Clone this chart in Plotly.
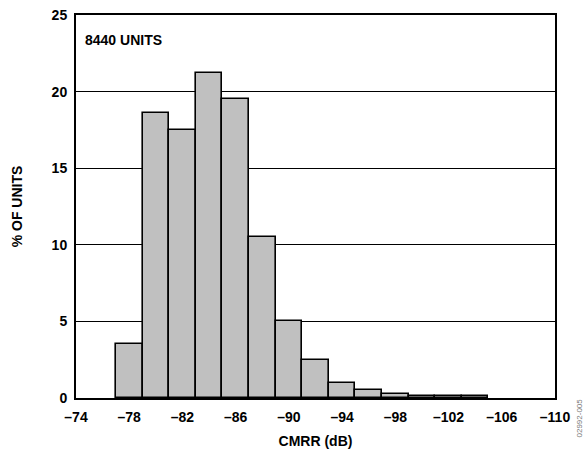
import plotly.graph_objects as go

# CMRR bin centers (dB) and % of units
bin_centers = [-78, -80, -82, -84, -86, -88, -90, -92, -94, -96, -98, -100, -102, -104]
pct_units = [3.5, 18.6, 17.5, 21.2, 19.5, 10.5, 5.0, 2.5, 1.0, 0.55, 0.25, 0.12, 0.12, 0.12]
x_ticks = [-74, -78, -82, -86, -90, -94, -98, -102, -106, -110]
y_ticks = [0, 5, 10, 15, 20, 25]

font_family = "Liberation Sans, Arial, sans-serif"
bold14 = dict(family=font_family, size=14, color="black", weight="bold")

fig = go.Figure()
fig.add_trace(go.Bar(
    x=bin_centers, y=pct_units, width=2,
    marker=dict(color="#c0c0c0", line=dict(color="black", width=1.6)),
    showlegend=False,
))

fig.update_layout(
    width=587, height=455,
    margin=dict(l=76, r=32, t=15, b=57, autoexpand=False),
    paper_bgcolor="white", plot_bgcolor="white",
    font=dict(family=font_family, color="black", size=13),
    bargap=0,
    xaxis=dict(
        range=[-74, -110], tickvals=x_ticks,
        ticktext=["<b>\u2013%d</b>" % abs(v) for v in x_ticks],
        tickfont=bold14, automargin=False,
        showgrid=False, zeroline=False,
        showline=True, linecolor="black", linewidth=2, mirror=True,
        ticks="outside", ticklen=5, tickcolor="rgba(0,0,0,0)",
        title=dict(text="<b>CMRR (dB)</b>", font=bold14, standoff=12),
    ),
    yaxis=dict(
        range=[0, 25], tickvals=y_ticks,
        ticktext=["<b>%d</b>" % v for v in y_ticks],
        tickfont=bold14, automargin=False,
        showgrid=True, gridcolor="black", gridwidth=1,
        zeroline=False,
        showline=True, linecolor="black", linewidth=2, mirror=True,
        ticks="outside", ticklen=4, tickcolor="rgba(0,0,0,0)",
        title=dict(text="<b>% OF UNITS</b>", font=bold14, standoff=26),
    ),
    annotations=[
        dict(text="<b>8440 UNITS</b>", xref="paper", yref="paper",
             x=0.015, y=0.935, xanchor="left", yanchor="middle",
             showarrow=False, font=bold14),
        dict(text="02992-005", xref="paper", yref="paper",
             x=1.052, y=0.005, xanchor="center", yanchor="top",
             textangle=-90, showarrow=False,
             font=dict(family=font_family, size=8, color="#777777")),
    ],
)

fig.write_html("out.html",
               config={"displayModeBar": False},
               post_script="document.body.style.margin='0';document.body.style.overflow='hidden';")
